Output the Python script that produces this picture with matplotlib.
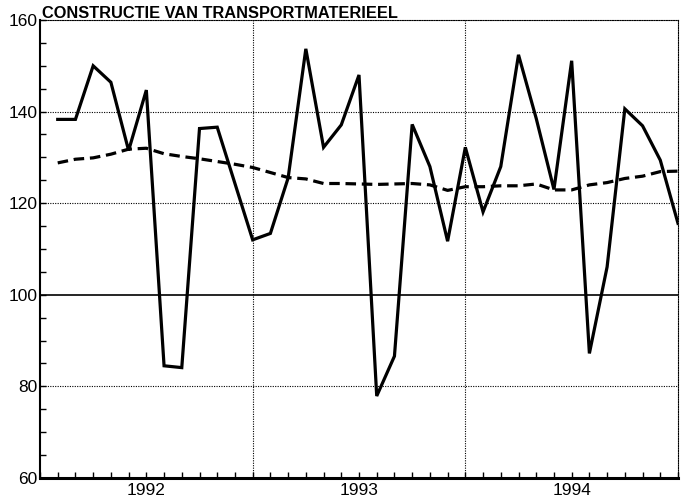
"""Constructie van transportmaterieel: monthly index 1992-1994 with trend."""

import matplotlib.pyplot as plt
import numpy as np
from matplotlib.transforms import blended_transform_factory

TITLE = "CONSTRUCTIE VAN TRANSPORTMATERIEEL"
YEARS = ["1992", "1993", "1994"]

# monthly index values, Jan 1992 .. Dec 1994
index_1992 = [138.3, 138.3, 150.0, 146.4, 131.5, 144.7,
              84.5, 84.1, 136.3, 136.6, 124.3, 112.0]
index_1993 = [113.4, 125.5, 153.7, 132.2, 137.1, 148.0,
              77.9, 86.6, 137.2, 128.0, 111.7, 132.2]
index_1994 = [118.1, 128.0, 152.4, 138.5, 123.0, 151.1,
              87.2, 106.1, 140.6, 136.9, 129.4, 115.6]

trend_1992 = [128.8, 129.6, 129.9, 130.7, 131.8, 132.0,
              130.8, 130.2, 129.7, 129.1, 128.5, 127.8]
trend_1993 = [126.7, 125.6, 125.3, 124.3, 124.3, 124.2,
              124.1, 124.2, 124.3, 124.0, 122.8, 123.6]
trend_1994 = [123.6, 123.8, 123.8, 124.2, 122.9, 122.9,
              124.0, 124.5, 125.4, 125.9, 126.9, 127.0]

index = np.array(index_1992 + index_1993 + index_1994)
trend = np.array(trend_1992 + trend_1993 + trend_1994)
# each month is plotted at the end of its month slot
months = np.arange(1, len(index) + 1)

plt.rcParams["font.family"] = ["Liberation Sans", "DejaVu Sans"]

fig = plt.figure(figsize=(6.88, 5.0), dpi=100)
ax = fig.add_axes([40 / 688, 22 / 500, 638 / 688, 458 / 500])

dotted = (0, (1, 1.2))
for y in [80, 120, 140]:
    ax.axhline(y, color="black", linewidth=0.8, linestyle=dotted, zorder=1)
for x in [12, 24]:
    ax.axvline(x, color="black", linewidth=0.8, linestyle=dotted, zorder=1)
ax.axhline(100, color="black", linewidth=1.2, zorder=1)

ax.plot(months, index, color="black", linewidth=2.3,
        solid_joinstyle="miter", zorder=3)
ax.plot(months, trend, color="black", linewidth=2.3,
        linestyle=(0, (3.3, 1.8)), zorder=2)

ax.set_xlim(0, 36)
ax.set_ylim(60, 160)

ax.set_yticks(np.arange(60, 161, 20))
ax.set_yticks(np.arange(60, 161, 5), minor=True)
ax.tick_params(axis="y", which="both", direction="in", length=4, width=1,
               pad=2, labelsize=12.5)
ax.set_xticks(np.arange(0, 37, 1))
ax.set_xticklabels([])
ax.tick_params(axis="x", which="both", direction="in", length=4, width=1)

trans = blended_transform_factory(ax.transData, ax.transAxes)
for i, label in enumerate(YEARS):
    ax.text(6 + 12 * i, -0.012, label, transform=trans, ha="center",
            va="top", fontsize=12.5)

ax.spines["left"].set_linewidth(1.5)
ax.spines["bottom"].set_linewidth(2.2)
for side in ["top", "right"]:
    ax.spines[side].set_linewidth(0.8)
    ax.spines[side].set_linestyle(dotted)

ax.text(0.003, 1.004, TITLE, transform=ax.transAxes, ha="left",
        va="baseline", fontsize=11.8, fontweight="bold")

fig.savefig("out.png", dpi=100)
